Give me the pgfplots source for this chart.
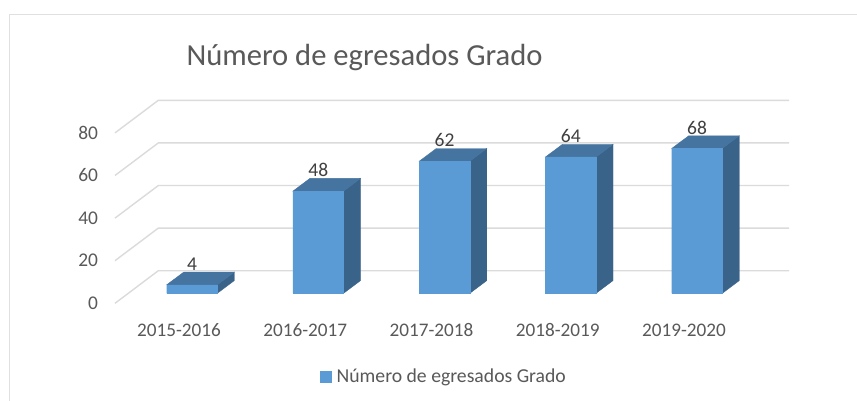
\documentclass[border=0pt]{standalone}
\usepackage{fontspec}
\setmainfont{Carlito}
\usepackage{pgfplots}
\pgfplotsset{compat=1.18}
\definecolor{front}{HTML}{5B9BD5}
\definecolor{topf}{HTML}{4574A0}
\definecolor{sidef}{HTML}{3A6389}
\definecolor{gridc}{HTML}{DBDBDB}
\definecolor{txt}{HTML}{595959}
\definecolor{lab}{HTML}{404040}
\definecolor{edgec}{HTML}{E0E0E0}
\begin{document}
\begin{tikzpicture}[x=1pt,y=1pt]
\useasboundingbox (0,0) rectangle (857,401);
\fill[white] (0,0) rectangle (857,401);
\draw[edgec,line width=1.2pt] (9.3,0) -- (9.3,386.7) -- (857,386.7);
\begin{axis}[
  at={(115pt,97.7pt)}, anchor=south west,
  width=674pt, height=204pt, scale only axis,
  xmin=-0.6099, xmax=4.7287, ymin=-4.69, ymax=91.08,
  clip=false,
  axis line style={draw=none},
  xtick={0,1,2,3,4},
  xticklabels={2015-2016,2016-2017,2017-2018,2018-2019,2019-2020},
  ytick={-4.69,15.31,35.31,55.31,75.31},
  yticklabels={0,20,40,60,80},
  tick style={draw=none},
  xticklabel style={font=\fontsize{19.2}{21}\selectfont, text=txt, anchor=center, xshift=-13pt, yshift=-27pt},
  yticklabel style={font=\fontsize{19.4}{21}\selectfont, text=txt, anchor=east, xshift=-13.5pt},
  /pgf/number format/assume math mode=true,
  title={Número de egresados Grado},
  title style={at={(axis description cs:0.3702,1.175)}, anchor=center, font=\fontsize{30.6}{33}\selectfont, text=txt},
  legend style={at={(axis description cs:0.3045,-0.3585)}, anchor=west, draw=none, fill=none, font=\fontsize{19.7}{21}\selectfont, text=txt, inner sep=0pt},
  legend cell align=left,
]
% grid (floor/back wall)
\addplot[gridc,line width=1.4pt,forget plot] coordinates {(-0.6099,-4.69)(-0.2669,10.6)(4.7287,10.6)};
\addplot[gridc,line width=1.4pt,forget plot] coordinates {(-0.6099,15.31)(-0.2669,30.6)(4.7287,30.6)};
\addplot[gridc,line width=1.4pt,forget plot] coordinates {(-0.6099,35.31)(-0.2669,50.6)(4.7287,50.6)};
\addplot[gridc,line width=1.4pt,forget plot] coordinates {(-0.6099,55.31)(-0.2669,70.6)(4.7287,70.6)};
\addplot[gridc,line width=1.4pt,forget plot] coordinates {(-0.6099,75.31)(-0.2669,90.6)(4.7287,90.6)};
% side faces
\addplot[fill=sidef,draw=sidef,line width=0.4pt,forget plot] coordinates {(0.2,0)(0.3347,5.96)(0.3347,9.96)(0.2,4)} --cycle;
\addplot[fill=sidef,draw=sidef,line width=0.4pt,forget plot] coordinates {(1.2,0)(1.3347,5.96)(1.3347,53.96)(1.2,48)} --cycle;
\addplot[fill=sidef,draw=sidef,line width=0.4pt,forget plot] coordinates {(2.2,0)(2.3347,5.96)(2.3347,67.96)(2.2,62)} --cycle;
\addplot[fill=sidef,draw=sidef,line width=0.4pt,forget plot] coordinates {(3.2,0)(3.3347,5.96)(3.3347,69.96)(3.2,64)} --cycle;
\addplot[fill=sidef,draw=sidef,line width=0.4pt,forget plot] coordinates {(4.2,0)(4.3347,5.96)(4.3347,73.96)(4.2,68)} --cycle;
% top faces
\addplot[fill=topf,draw=topf,line width=0.4pt,forget plot] coordinates {(-0.2,4)(-0.0653,9.96)(0.3347,9.96)(0.2,4)} --cycle;
\addplot[fill=topf,draw=topf,line width=0.4pt,forget plot] coordinates {(0.8,48)(0.9347,53.96)(1.3347,53.96)(1.2,48)} --cycle;
\addplot[fill=topf,draw=topf,line width=0.4pt,forget plot] coordinates {(1.8,62)(1.9347,67.96)(2.3347,67.96)(2.2,62)} --cycle;
\addplot[fill=topf,draw=topf,line width=0.4pt,forget plot] coordinates {(2.8,64)(2.9347,69.96)(3.3347,69.96)(3.2,64)} --cycle;
\addplot[fill=topf,draw=topf,line width=0.4pt,forget plot] coordinates {(3.8,68)(3.9347,73.96)(4.3347,73.96)(4.2,68)} --cycle;
% front faces: the series itself
\addplot[ybar, bar width=50.6pt, bar shift=0pt, fill=front, draw=front, line width=0.4pt,
  area legend,
  nodes near coords, point meta=y,
  every node near coord/.append style={anchor=center, yshift=21pt, font=\fontsize{19.5}{21}\selectfont, text=lab},
  legend image code/.code={\fill[front] (0pt,-5.5pt) rectangle (11pt,5.5pt);\path[draw=none,fill=none] (0pt,0pt) -- (14pt,0pt);},
] coordinates {(0,4)(1,48)(2,62)(3,64)(4,68)};
\addlegendentry{Número de egresados Grado}
\end{axis}
\end{tikzpicture}
\end{document}
